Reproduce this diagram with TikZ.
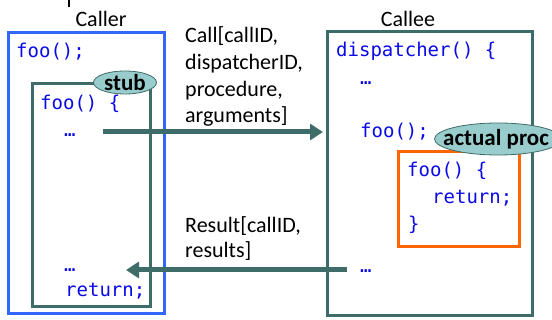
\documentclass[tikz,border=0pt]{standalone}
\usepackage{fontspec}
\setmainfont{Carlito}
\newfontfamily\codefont{DejaVu Sans Mono}
\usetikzlibrary{arrows.meta,shapes.geometric}
\definecolor{tealdark}{RGB}{62,108,104}
\definecolor{teallight}{RGB}{153,204,204}
\definecolor{boxblue}{RGB}{51,102,255}
\definecolor{codeblue}{RGB}{10,10,230}
\definecolor{procorange}{RGB}{255,102,0}
\tikzset{
  code/.style={font=\codefont\fontsize{19}{22}\selectfont, text=codeblue, anchor=base west, inner sep=0pt},
  lbl/.style={font=\fontsize{22}{27}\selectfont, anchor=base west, inner sep=0pt},
  boxnode/.style={draw, rectangle, line width=3pt, inner sep=0pt},
  tag/.style={draw=tealdark, line width=0.8pt, fill=teallight, ellipse, inner sep=0pt},
  tagtext/.style={font=\bfseries\fontsize{23}{25}\selectfont, inner sep=0pt},
  flow/.style={draw=tealdark, line width=5pt, -{Triangle[length=13pt,width=16pt]}}
}
\begin{document}
\begin{tikzpicture}[x=1pt,y=-1pt]
\useasboundingbox (0,0) rectangle (552,320);
% small mark at the top
\coordinate (m1) at (69,0);
\coordinate (m2) at (69,7);
\draw[line width=1.5pt] (m1) -- (m2);
% boxes
\node[boxnode, draw=boxblue, minimum width=156pt, minimum height=281pt] (caller) at (86,173.5) {};
\node[boxnode, draw=tealdark, minimum width=118pt, minimum height=223pt] (stubbox) at (91,195.5) {};
\node[boxnode, draw=tealdark, minimum width=205pt, minimum height=284pt] (callee) at (429.5,174) {};
\node[boxnode, draw=procorange, minimum width=121pt, minimum height=95pt] (proc) at (458.5,199.5) {};
% titles
\node[lbl, anchor=base] (callerlbl) at (101,27) {Caller};
\node[lbl, anchor=base] (calleelbl) at (408,27) {Callee};
% caller code
\node[code] (c1) at (16,58) {foo();};
\node[code] (c2) at (40,110) {foo() \{};
\node[code] (c3) at (64,137) {…};
\node[code] (c4) at (64,272) {…};
\node[code] (c5) at (65,297) {return;};
% callee code
\node[code] (d1) at (336,57) {dispatcher() \{};
\node[code] (d2) at (360,85) {…};
\node[code] (d3) at (360,138) {foo();};
\node[code] (d4) at (407,177) {foo() \{};
\node[code] (d5) at (432,204) {return;};
\node[code] (d6) at (408,231) {\}};
\node[code] (d7) at (360,273) {…};
% tags
\node[tag, minimum width=63pt, minimum height=23pt] (stub) at (125,82.5) {};
\node[tagtext] (stubtxt) at (stub.center) {stub};
\node[tag, minimum width=127pt, minimum height=32pt] (actual) at (498,139) {};
\node[tagtext] (actualtxt) at (496,139) {actual proc};
% message labels
\node[lbl] (m1a) at (185,43) {Call[callID,};
\node[lbl] (m1b) at (185,70) {dispatcherID,};
\node[lbl] (m1c) at (185,97) {procedure,};
\node[lbl] (m1d) at (185,123) {arguments]};
\node[lbl] (m2a) at (185,233) {Result[callID,};
\node[lbl] (m2b) at (185,258) {results]};
% connectors
\coordinate (callstart) at (103,132);
\coordinate (callend) at (323,132);
\coordinate (resstart) at (347,270);
\coordinate (resend) at (126,270);
\draw[flow] (callstart) -- (callend);
\draw[flow] (resstart) -- (resend);
\end{tikzpicture}
\end{document}
